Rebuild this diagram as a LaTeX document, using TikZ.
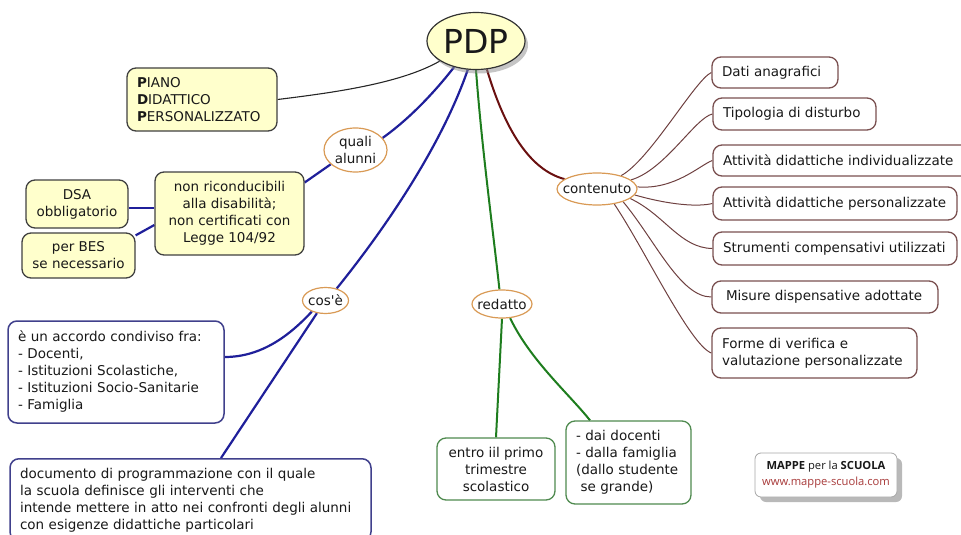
\documentclass[tikz,border=0pt]{standalone}
\usepackage{fontspec}
\setmainfont{DejaVu Sans}[Ligatures=TeXOff]
\newfontfamily\logofont{Open Sans}
\usetikzlibrary{shapes.geometric,backgrounds,shadows}
\definecolor{yel}{HTML}{FFFFCC}
\definecolor{bluel}{HTML}{1F1F9A}
\definecolor{blueb}{HTML}{40408C}
\definecolor{greenl}{HTML}{1E7D1E}
\definecolor{greenb}{HTML}{4F8A4F}
\definecolor{redl}{HTML}{6A1010}
\definecolor{brownl}{HTML}{6E4040}
\definecolor{brownb}{HTML}{7A5050}
\definecolor{orangeb}{HTML}{D99A55}
\definecolor{urlc}{HTML}{A83A3A}
\newcommand\lb[2]{\makebox[#1pt][l]{#2}}
\begin{document}
\begin{tikzpicture}[x=1pt,y=-1pt,
  every node/.style={font=\fontsize{13.5}{17}\selectfont, text=black!90},
  box/.style={rectangle, rounded corners=9pt, line width=1.3pt, inner ysep=0pt},
  ybox/.style={box, draw=black!75, fill=yel},
  bbox/.style={box, draw=blueb, fill=white, line width=1.5pt},
  gbox/.style={box, draw=greenb, fill=white},
  rbox/.style={box, draw=brownb, fill=white, align=left, inner xsep=10pt},
  oval/.style={ellipse, draw=orangeb, fill=white, line width=1.2pt, inner sep=-12pt, align=center},
  bl/.style={draw=bluel, line width=2.2pt},
  gl/.style={draw=greenl, line width=2pt},
  rl/.style={draw=redl, line width=2pt},
  tl/.style={draw=brownl, line width=1pt},
]
\useasboundingbox (0,0) rectangle (961,535);

% central node
\node[ellipse, draw=black!80, fill=yel, line width=1.2pt, minimum width=98pt, minimum height=57pt, inner sep=0pt,
  drop shadow={shadow xshift=3pt, shadow yshift=-4pt, fill=black!45},
  font=\fontsize{33}{38}\selectfont] (pdp) at (476,41) {PDP};

% left, yellow boxes
\node[ybox, text width=130pt, inner xsep=10pt, minimum height=63pt, align=left] (piano) at (202,99.5)
  {\textbf{P}IANO\\\textbf{D}IDATTICO\\\textbf{P}ERSONALIZZATO};
\node[ybox, minimum width=149pt, minimum height=83pt, align=center] (non) at (229.5,213.5)
  {non riconducibili\\alla disabilità;\\non certificati con\\Legge 104/92};
\node[ybox, minimum width=102pt, minimum height=48pt, align=center] (dsa) at (77,204) {DSA\\obbligatorio};
\node[ybox, minimum width=113pt, minimum height=45pt, align=center] (bes) at (78.5,255.5) {per BES\\se necessario};

% ovals
\node[oval, minimum width=63pt, minimum height=44pt] (quali) at (355.5,150) {quali\\alunni};
\node[oval, minimum width=46pt, minimum height=26pt] (cose) at (325.5,300.5) {cos'è};
\node[oval, minimum width=60pt, minimum height=28pt] (red) at (502,304) {redatto};
\node[oval, minimum width=80pt, minimum height=32pt] (cont) at (597,189) {contenuto};

% blue boxes
\node[bbox, text width=196pt, inner xsep=10pt, minimum height=102pt, align=left] (acc) at (116,372)
  {è un accordo condiviso fra:\\- Docenti,\\- Istituzioni Scolastiche,\\- Istituzioni Socio-Sanitarie\\- Famiglia};
\node[bbox, anchor=north, text width=341pt, inner xsep=10pt, inner ysep=9pt, align=left] (doc) at (190.5,458)
  {documento di programmazione con il quale\\la scuola definisce gli interventi che\\intende mettere in atto nei confronti degli alunni\\con esigenze didattiche particolari};

% green boxes
\node[gbox, minimum width=118pt, minimum height=62pt, align=center] (entro) at (496,469)
  {entro iil primo\\trimestre\\scolastico};
\node[gbox, text width=105pt, inner xsep=10pt, minimum height=83pt, align=left] (dai) at (628.5,462.5)
  {- dai docenti\\- dalla famiglia\\(dallo studente\\\ se grande)};

% right, brown boxes
\node[rbox, minimum height=31pt] (dati) at (775,72.5) {\lb{106}{Dati anagrafici}};
\node[rbox, minimum height=32pt] (tipo) at (794.5,114) {\lb{143}{Tipologia di disturbo}};
\node[rbox, minimum height=31pt] (ind) at (844,160.5) {\lb{242}{Attività didattiche individualizzate}};
\node[rbox, minimum height=33pt] (pers) at (835,203.5) {\lb{224}{Attività didattiche personalizzate}};
\node[rbox, minimum height=33pt] (stru) at (835,248.5) {\lb{224}{Strumenti compensativi utilizzati}};
\node[rbox, minimum height=32pt, inner xsep=14pt] (mis) at (825,297) {\lb{198}{Misure dispensative adottate}};
\node[rbox, text width=185pt, minimum height=50pt] (forme) at (814.5,353)
  {Forme di verifica e\\valutazione personalizzate};

% logo
\node[draw=black!35, fill=white, rounded corners=6pt, line width=0.8pt, minimum width=142pt, minimum height=44pt,
  drop shadow={shadow xshift=5pt, shadow yshift=-5pt, fill=black!55},
  align=center, font=\logofont\fontsize{11.2}{16}\selectfont] (logo) at (826,475)
  {\textbf{MAPPE} per la \textbf{SCUOLA}\\\textcolor{urlc}{www.mappe-scuola.com}};

% connectors
\begin{scope}[on background layer]
\draw[black!85, line width=1.1pt] (pdp.-151) .. controls (400,84) and (330,93) .. (piano.east);
\draw[bl] (pdp.-130) .. controls (430,98) and (405,122) .. (quali.24);
\draw[bl] (quali.-150) -- ([yshift=31pt]non.east);
\draw[bl] (dsa.east) ++(0,4) -- ([yshift=5.5pt]non.west);
\draw[bl] ([yshift=-3pt]bes.north east) -- ([yshift=-11.5pt]non.west);
\draw[bl] (pdp.-106) .. controls (440,150) and (380,235) .. (cose.47);
\draw[bl] (cose.-141) .. controls (290,335) and (262,357) .. ([yshift=15pt]acc.east);
\draw[bl] (cose.-124) -- ([xshift=30.5pt]doc.north);

\draw[gl] (pdp.-90) .. controls (482,150) and (493,230) .. (red.100);
\draw[gl] (red.-90) -- (entro.north);
\draw[gl] (red.-60) .. controls (530,360) and (570,395) .. ([xshift=-38.5pt]dai.north);

\draw[rl] (pdp.-69) .. controls (505,130) and (530,170) .. (cont.163);

\draw[tl] (cont.29) .. controls (650,160) and (695,80) .. (dati.west);
\draw[tl] (cont.15) .. controls (665,170) and (695,118) .. (tipo.west);
\draw[tl] (cont.3) .. controls (675,190) and (700,165) .. (ind.west);
\draw[tl] (cont.-9) .. controls (670,205) and (698,207) .. (pers.west);
\draw[tl] (cont.-16) .. controls (665,215) and (680,248) .. (stru.west);
\draw[tl] (cont.-26) .. controls (655,240) and (680,297) .. (mis.west);
\draw[tl] (cont.-41) .. controls (645,250) and (690,345) .. (forme.west);
\end{scope}
\end{tikzpicture}
\end{document}
